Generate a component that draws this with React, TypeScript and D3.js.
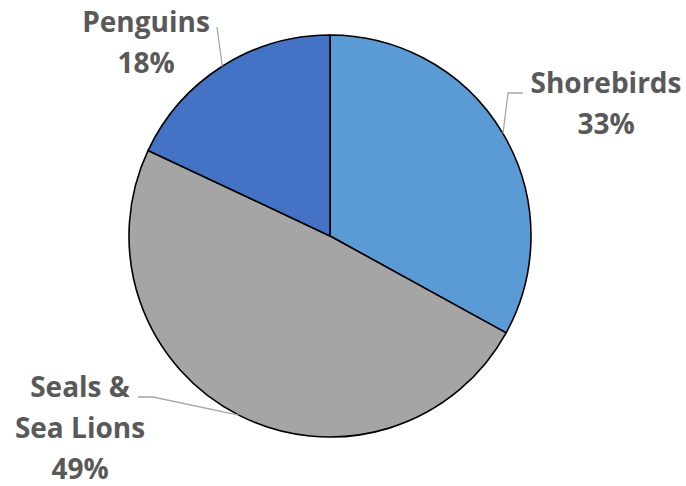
import React from "react";
import * as d3 from "d3";

const categories = ["Shorebirds", "Seals & Sea Lions", "Penguins"];
const values = [33, 49, 18];
const colors = ["#5B9BD5", "#A5A5A5", "#4472C4"];
const labelLines = [["Shorebirds"], ["Seals &", "Sea Lions"], ["Penguins"]];

const W = 686, H = 486;
const cx = 330, cy = 236, R = 201;

// label layout (text anchor center + first baseline), leader elbow
const labelPos = [
  { x: 606, y: 93, elbow: [[523, 93], [508, 93]] },
  { x: 80, y: 397, elbow: [[138, 397], [153, 397]] },
  { x: 146, y: 32, elbow: [[217, 27]] },
];
const lineH = 41;

export default function App() {
  const pie = d3.pie<number>().sort(null).value((d) => d)(values);
  const arc = d3.arc<d3.PieArcDatum<number>>().innerRadius(0).outerRadius(R);
  const total = d3.sum(values);
  const edge = (a: number, r: number) => [Math.sin(a) * r, -Math.cos(a) * r];
  return (
    <svg width={W} height={H} style={{ position: "absolute", left: 0, top: 0, background: "#fff" }}>
      <g transform={`translate(${cx},${cy})`}>
        {pie.map((p, i) => (
          <path key={i} d={arc(p) as string} fill={colors[i]} stroke="#000" strokeWidth={1.6} strokeLinejoin="round" />
        ))}
      </g>
      {pie.map((p, i) => {
        const a = (p.startAngle + p.endAngle) / 2;
        const [ex, ey] = edge(a, R);
        const pts = [...labelPos[i].elbow, [cx + ex, cy + ey]];
        return (
          <polyline key={"l" + i} points={pts.map((q) => q.join(",")).join(" ")} fill="none" stroke="#A6A6A6" strokeWidth={1.3} />
        );
      })}
      {pie.map((p, i) => {
        const lines = [...labelLines[i], `${d3.format(".0f")((values[i] / total) * 100)}%`];
        return (
          <text key={"t" + i} x={labelPos[i].x} y={labelPos[i].y} textAnchor="middle" fontFamily="Open Sans" fontWeight={700} fontSize={28} fill="#595959">
            {lines.map((s, j) => (
              <tspan key={j} x={labelPos[i].x} y={labelPos[i].y + j * lineH}>{s}</tspan>
            ))}
          </text>
        );
      })}
    </svg>
  );
}
